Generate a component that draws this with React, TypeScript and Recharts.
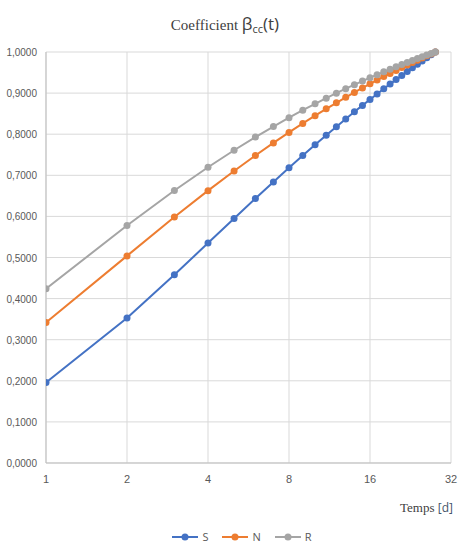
import React from 'react';
import { LineChart, Line, XAxis, YAxis, CartesianGrid } from 'recharts';

// age in days
const days = [1, 2, 3, 4, 5, 6, 7, 8, 9, 10, 11, 12, 13, 14, 15, 16, 17, 18, 19, 20, 21, 22, 23, 24, 25, 26, 27, 28];

const sValues = [0.1958, 0.3528, 0.458, 0.5351, 0.595, 0.6435, 0.6839, 0.7183, 0.7481, 0.7742, 0.7975, 0.8183, 0.8372, 0.8544, 0.8701, 0.8845, 0.8979, 0.9104, 0.9219, 0.9328, 0.9429, 0.9525, 0.9615, 0.97, 0.9781, 0.9858, 0.9931, 1.0];
const nValues = [0.342, 0.5039, 0.5983, 0.6627, 0.7106, 0.7482, 0.7788, 0.8044, 0.8262, 0.8451, 0.8617, 0.8764, 0.8897, 0.9016, 0.9125, 0.9225, 0.9316, 0.9401, 0.9479, 0.9552, 0.962, 0.9684, 0.9745, 0.9802, 0.9855, 0.9906, 0.9954, 1.0];
const rValues = [0.4239, 0.5779, 0.663, 0.7195, 0.7609, 0.7929, 0.8187, 0.8401, 0.8583, 0.874, 0.8877, 0.8999, 0.9107, 0.9205, 0.9293, 0.9375, 0.9449, 0.9518, 0.9581, 0.964, 0.9695, 0.9747, 0.9795, 0.9841, 0.9884, 0.9925, 0.9963, 1.0];

const xTicks = [1, 2, 4, 8, 16, 32];
const yTicks = [0, 0.1, 0.2, 0.3, 0.4, 0.5, 0.6, 0.7, 0.8, 0.9, 1.0];

const series = [
  { key: 'S', color: '#4472C4' },
  { key: 'N', color: '#ED7D31' },
  { key: 'R', color: '#A5A5A5' },
];

const data = days.map((t, i) => ({ t, S: sValues[i], N: nValues[i], R: rValues[i] }));

const FONT = "'Liberation Sans', Arial, sans-serif";

const YTick = ({ y, payload }: any) => (
  <text x={37} y={y} dy={4} textAnchor="end" style={{ fontSize: 10, fontFamily: FONT }} fill="#595959">
    {Number(payload.value).toFixed(4).replace('.', ',')}
  </text>
);

const XTick = ({ x, y, payload }: any) => (
  <text x={x} y={y} dy={12} textAnchor="middle" style={{ fontSize: 11, fontFamily: FONT }} fill="#595959">
    {payload.value}
  </text>
);

export default function App() {
  return (
    <div style={{ position: 'relative', width: 468, height: 556, background: '#fff' }}>
      <style>{'body { margin: 0; }'}</style>
      <div style={{ position: 'absolute', top: 12, left: 0, width: 450, textAlign: 'center', color: '#404040' }}>
        <span style={{ fontFamily: "'Liberation Serif', serif", fontSize: 15 }}>Coefficient </span>
        <span style={{ fontFamily: "'Open Sans', sans-serif", fontSize: 17 }}>
          β<sub style={{ fontSize: 11, verticalAlign: '-3px' }}>cc</sub>(t)
        </span>
      </div>
      <LineChart width={468} height={556} data={data} margin={{ top: 52, right: 17, left: 6, bottom: 63 }}>
        <CartesianGrid stroke="#d9d9d9" vertical horizontal />
        <XAxis
          dataKey="t"
          type="number"
          scale="log"
          domain={[1, 32]}
          ticks={xTicks}
          interval={0}
          allowDataOverflow
          height={30}
          stroke="#bfbfbf"
          tickLine={false}
          tick={<XTick />}
        />
        <YAxis
          type="number"
          domain={[0, 1]}
          ticks={yTicks}
          interval={0}
          width={40}
          axisLine={{ stroke: '#bfbfbf' }}
          tickLine={false}
          tick={<YTick />}
        />
        {series.map(s => (
          <Line
            key={s.key}
            dataKey={s.key}
            stroke={s.color}
            strokeWidth={2}
            dot={{ r: 3.5, fill: s.color, stroke: s.color, strokeWidth: 0 }}
            isAnimationActive={false}
          />
        ))}
      </LineChart>
      <div style={{ position: 'absolute', top: 498, left: 400, color: '#404040', whiteSpace: 'nowrap' }}>
        <span style={{ fontFamily: "'Liberation Serif', serif", fontSize: 13 }}>Temps </span>
        <span style={{ fontFamily: "'Open Sans', sans-serif", fontSize: 12, color: '#44546A' }}>[d]</span>
      </div>
      <div style={{ position: 'absolute', top: 529, left: 8, width: 468, display: 'flex', justifyContent: 'center', gap: 14, fontFamily: "'Open Sans', sans-serif", fontSize: 11, color: '#595959' }}>
        {series.map(s => (
          <div key={s.key} style={{ display: 'flex', alignItems: 'center', gap: 4 }}>
            <svg width={26} height={10}>
              <line x1={0} y1={5} x2={26} y2={5} stroke={s.color} strokeWidth={2} />
              <circle cx={13} cy={5} r={3.5} fill={s.color} />
            </svg>
            <span>{s.key}</span>
          </div>
        ))}
      </div>
    </div>
  );
}
